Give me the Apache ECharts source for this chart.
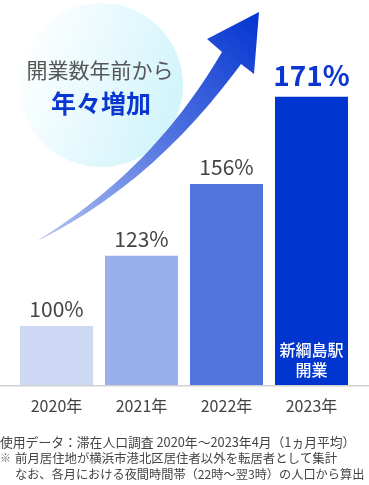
<!DOCTYPE html>
<html><head><meta charset="utf-8">
<script src="https://cdn.jsdelivr.net/npm/echarts@6/dist/echarts.min.js"></script>
<style>html,body{margin:0;padding:0;background:#fff}#c{width:369px;height:485px}</style>
</head><body><div id="c"></div>
<script>
// ---- data ----
const categories = ['2020年', '2021年', '2022年', '2023年'];
const growthValues = [100, 123, 156, 171];          // % shown above bars
const barHeights = [19.7, 43.1, 67.0, 96.1];        // drawn bar heights (0–100 plot scale)
const insideNote = '新綱島駅\n開業';
const headline1 = '開業数年前から';
const headline2 = '年々増加';
const notes = [
  '使用データ：滞在人口調査 2020年～2023年4月（1ヵ月平均）',
  '※',
  '前月居住地が横浜市港北区居住者以外を転居者として集計',
  'なお、各月における夜間時間帯（22時～翌3時）の人口から算出'
];

const barColors = ['#cdd8f4', '#99b0ea', '#4f75dd', '#0036cf'];
const FONT = '"Noto Sans CJK JP", "Noto Sans", sans-serif';

// arrow outline (decoration) built from bezier curves
function bez(p0, p1, p2, p3, n) {
  const out = [];
  for (let i = 0; i <= n; i++) {
    const t = i / n, u = 1 - t;
    out.push([
      u*u*u*p0[0] + 3*u*u*t*p1[0] + 3*u*t*t*p2[0] + t*t*t*p3[0],
      u*u*u*p0[1] + 3*u*u*t*p1[1] + 3*u*t*t*p2[1] + t*t*t*p3[1]
    ]);
  }
  return out;
}
const arrowPts = []
  .concat(bez([37, 241], [110, 195], [170, 140], [222, 52], 40))
  .concat([[207, 39], [259, 12], [254, 74], [241, 64]])
  .concat(bez([241, 64], [185, 140], [120, 200], [37, 241], 40));

const chart = echarts.init(document.getElementById('c'), null, {renderer: 'canvas'});
chart.setOption({
  animation: false,
  textStyle: {fontFamily: FONT},
  grid: {left: 14, right: 15, top: 85, bottom: 100},
  xAxis: {
    type: 'category', data: categories,
    axisLine: {show: false}, axisTick: {show: false},
    axisLabel: {color: '#444', fontSize: 16, margin: 13, fontFamily: FONT}
  },
  yAxis: {type: 'value', min: 0, max: 100, show: false, splitLine: {show: false}},
  series: [
    {
      type: 'bar', barWidth: 73, z: 3,
      data: barHeights.map((v, i) => ({
        value: v,
        itemStyle: {color: barColors[i]},
        label: i === 3
          ? {show: true, position: 'top', distance: 7, color: '#0a37cf', fontSize: 28, fontWeight: 'bold',
             formatter: growthValues[i] + '%'}
          : {show: true, position: 'top', distance: 6, color: '#444', fontSize: 21,
             formatter: growthValues[i] + '%'}
      }))
    },
    {
      type: 'bar', barWidth: 73, barGap: '-100%', z: 4, silent: true,
      itemStyle: {color: 'rgba(0,0,0,0)'},
      data: barHeights.map((v, i) => ({
        value: v,
        label: i === 3
          ? {show: true, position: 'insideBottom', distance: 5, color: '#fff', fontSize: 16, lineHeight: 20,
             fontWeight: 500, formatter: insideNote}
          : {show: false}
      }))
    }
  ],
  graphic: [
    {
      type: 'circle', z: 0, shape: {cx: 101, cy: 85, r: 82},
      style: {fill: new echarts.graphic.LinearGradient(0, 0.25, 0.95, 0.6, [
        {offset: 0, color: '#ffffff'}, {offset: 1, color: '#d2f4fb'}])}
    },
    {
      type: 'polygon', z: 2, shape: {points: arrowPts},
      style: {fill: new echarts.graphic.LinearGradient(0, 1, 1, 0, [
        {offset: 0, color: '#b8c6f2'}, {offset: 0.45, color: '#5d7de2'}, {offset: 1, color: '#0434d0'}])}
    },
    {
      type: 'text', z: 5, style: {text: headline1, x: 100, y: 70, textAlign: 'center', textVerticalAlign: 'middle',
        fill: '#555', font: '21px ' + FONT}
    },
    {
      type: 'text', z: 5, style: {text: headline2, x: 101, y: 103, textAlign: 'center', textVerticalAlign: 'middle',
        fill: '#0a37cf', font: 'bold 25px ' + FONT}
    },
    {
      type: 'rect', z: 5, shape: {x: 0, y: 385, width: 369, height: 1.5},
      style: {fill: '#d0d0d0'}
    },
    {type: 'text', z: 5, style: {text: notes[0], x: 0, y: 442, textVerticalAlign: 'middle', fill: '#444', font: '12.8px ' + FONT}},
    {type: 'text', z: 5, style: {text: notes[1], x: 0, y: 458, textVerticalAlign: 'middle', fill: '#666', font: '11px ' + FONT}},
    {type: 'text', z: 5, style: {text: notes[2], x: 15, y: 458, textVerticalAlign: 'middle', fill: '#444', font: '12.4px ' + FONT}},
    {type: 'text', z: 5, style: {text: notes[3], x: 15, y: 474, textVerticalAlign: 'middle', fill: '#444', font: '12.2px ' + FONT}}
  ]
});
</script></body></html>
